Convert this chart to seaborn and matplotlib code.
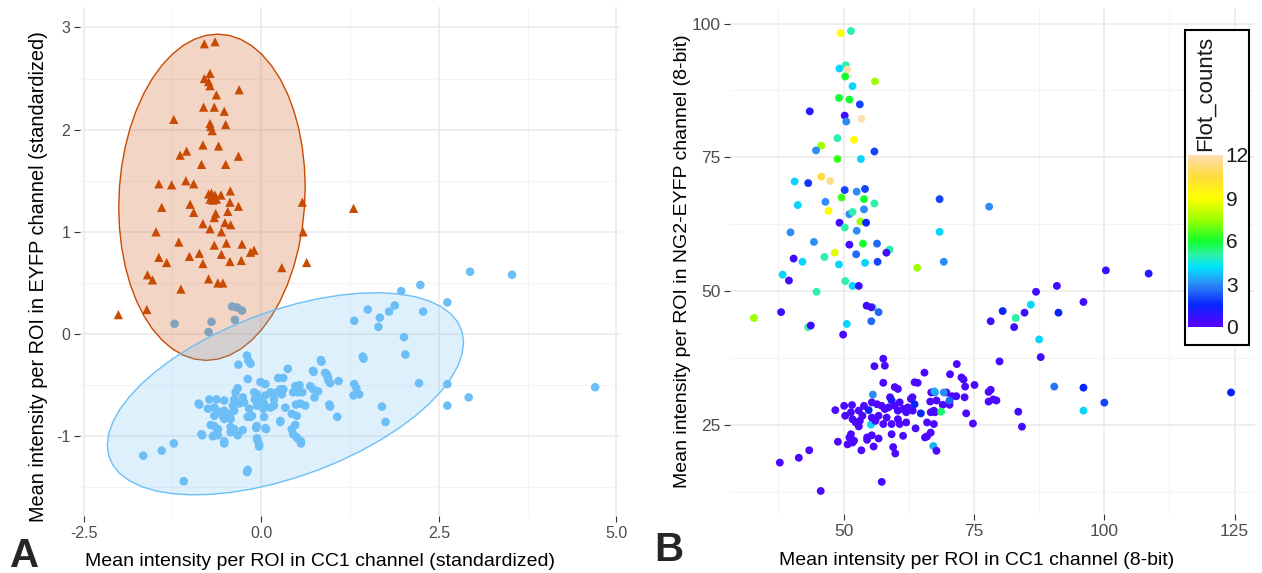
import numpy as np
import pandas as pd
import matplotlib
matplotlib.use("Agg")
import matplotlib.pyplot as plt
import seaborn as sns
from matplotlib.colors import LinearSegmentedColormap, Normalize
from matplotlib.patches import Polygon, Rectangle
from matplotlib.ticker import FixedLocator, FuncFormatter

# ---------------- Panel A: standardized intensities ----------------
eyfp_cc1_x = [-0.80, -0.65, -0.72, -0.80, -0.74, -0.72, -0.31, -0.63, -0.81, -0.66,
              -0.52, -1.23, -0.72, -0.71, -0.69, -0.50, -0.82, -0.60, -1.05, -1.14,
              -0.84, -0.50, -0.32, -1.06, -0.95, -1.44, -1.26, -0.74, -0.70, -0.65,
              -0.72, -0.68, -0.63, -0.565, -0.435, -1.00, -0.44, -0.32, 0.58, -1.40,
              -0.95, -0.64, -0.66, -0.47, -0.82, -0.51, -0.43, -0.72, -0.56, -1.48,
              0.59, -1.16, -0.66, -0.49, -0.27, -0.15, -0.10, -0.87, -0.56, -1.44,
              -1.33, -1.01, -0.82, -0.44, -0.28, 0.29, 0.64, -1.60, -1.53, -0.74,
              -0.61, -0.54, -1.13, -1.61, -2.01, 1.30]
eyfp_eyfp_y = [2.84, 2.86, 2.55, 2.50, 2.47, 2.43, 2.39, 2.34, 2.22, 2.22,
               2.18, 2.10, 2.06, 2.03, 1.99, 2.05, 1.85, 1.84, 1.79, 1.75,
               1.66, 1.66, 1.74, 1.50, 1.47, 1.47, 1.46, 1.37, 1.38, 1.36,
               1.32, 1.31, 1.32, 1.36, 1.40, 1.27, 1.29, 1.25, 1.29, 1.24,
               1.19, 1.18, 1.14, 1.20, 1.08, 1.09, 1.07, 1.03, 1.00, 1.00,
               1.00, 0.90, 0.87, 0.89, 0.88, 0.80, 0.82, 0.79, 0.78, 0.75,
               0.70, 0.76, 0.69, 0.71, 0.72, 0.65, 0.70, 0.58, 0.53, 0.54,
               0.50, 0.50, 0.44, 0.24, 0.19, 1.23]

cc1_cc1_x = [-1.22, -0.70, -0.74, -0.37, -0.41, -0.34, -0.27,
             2.94, 3.53, 2.24, 1.97, 2.62, 1.88, 1.50, 1.80, 2.28, 1.67, 1.31, 1.65,
             2.01, 2.03, 1.44, 2.22, 2.62, 4.70, 2.92, 2.62, 1.70, 1.75, 1.07, 0.97,
             1.31, 1.34, 1.38, 1.30, 1.09, 0.85, 0.74, 0.92, 0.94, 0.97, 0.375,
             -0.32, -0.18, -0.15, -0.20, -1.66, -1.40, -1.23, -1.09, -0.20, -0.83,
             -0.87, -0.52, -0.03, -0.05, 0.56, 0.51, 0.45, 0.27, -0.07, 0.07,
             1.43, 0.84, 0.73, 0.90, 0.94, 0.96, -0.19, -0.01, 0.06, 0.24, 0.31,
             0.96, 0.48, 0.54, 0.69, 0.73, 0.75, 0.80, 0.45, 0.52, 0.58, 0.49, 0.55,
             0.62, 0.27, 0.31, 0.22, 0.29, 0.13, 0.06, 0.18, 0.13, 0.18, 0.34, 0.43,
             0.50, 0.27, 0.43, 0.48, 0.50, 0.56, 0.04, 0.03, 0.04, 0.06, -0.065,
             -0.06, -0.03, -0.19, -0.10, -0.06, -0.09, 0.00, -0.06, -0.17, -0.19,
             -0.13, -0.26, -0.24, -0.31, -0.36, -0.38, -0.33, -0.40, -0.38, -0.44,
             -0.52, -0.54, -0.52, -0.63, -0.66, -0.73, -0.75, -0.88, -0.59, -0.66,
             -0.52, -0.71, -0.66, -0.61, -0.84, -0.66, -0.68, -0.61, -0.52, -0.43,
             -0.38, -0.43, -0.26, -0.33, -0.15, -0.43]
cc1_eyfp_y = [0.10, 0.12, 0.02, 0.14, 0.27, 0.26, 0.23,
              0.61, 0.58, 0.48, 0.42, 0.31, 0.28, 0.24, 0.22, 0.22, 0.16, 0.13, 0.07,
              -0.03, -0.20, -0.24, -0.48, -0.49, -0.52, -0.62, -0.70, -0.71, -0.86, -0.81, -0.71,
              -0.49, -0.53, -0.59, -0.60, -0.46, -0.27, -0.37, -0.39, -0.44, -0.48, -0.34,
              -0.30, -0.26, -0.29, -0.21, -1.19, -1.14, -1.07, -1.44, -1.35, -0.99,
              -0.69, -1.07, -1.10, -1.04, -1.07, -1.02, -0.98, -0.86, -0.92, -0.93,
              -0.22, -0.255, -0.36, -0.38, -0.42, -0.47, -0.44, -0.47, -0.49, -0.43, -0.43,
              -0.69, -0.51, -0.50, -0.51, -0.54, -0.62, -0.56, -0.57, -0.57, -0.57, -0.69, -0.68,
              -0.70, -0.54, -0.54, -0.57, -0.59, -0.57, -0.60, -0.64, -0.72, -0.70, -0.72, -0.78,
              -0.80, -0.85, -0.93, -0.89, -1.01, -1.05, -0.68, -0.73, -0.81, -0.92, -0.90,
              -1.02, -1.08, -1.33, -0.57, -0.59, -0.64, -0.65, -0.70, -0.73, -0.81,
              -0.80, -0.62, -0.67, -0.68, -0.57, -0.64, -0.53, -0.70, -0.75, -0.78,
              -0.75, -0.80, -0.65, -0.64, -0.72, -0.64, -0.73, -0.68, -0.76, -0.80,
              -0.83, -0.89, -0.90, -0.93, -0.98, -0.99, -1.00, -0.99, -1.05, -0.91,
              -0.93, -0.96, -0.94, -0.99, -0.81, -0.83]

# ---------------- Panel B: 8-bit intensities ----------------
cc1_8bit = [49.4, 51.4, 49.2, 50.4, 50.7, 50.3, 56.0, 51.7, 49.1, 51.1, 53.1, 43.5, 50.2, 50.5,
            53.4, 48.8, 52.0, 45.7, 44.7, 55.9, 48.8, 53.3, 45.7, 47.4, 40.6, 43.2, 50.2, 52.5,
            54.1, 41.2, 46.5, 49.6, 53.9, 55.9, 47.1, 51.1, 51.7, 53.9, 49.2, 53.2, 54.3, 50.2,
            52.5, 39.8, 44.3, 51.1, 53.7, 56.4, 58.8, 58.2, 48.3, 52.4, 40.4, 46.3, 42.1, 49.1,
            54.1, 56.5, 64.1, 38.3, 39.5, 50.3, 51.7, 52.9, 44.8, 55.6, 54.4, 55.3, 56.7, 55.3,
            38.0, 32.8, 43.2, 43.7, 50.6, 49.9, 68.4, 77.9, 68.4, 69.2,
            100.3, 108.5, 90.9, 86.9, 96.0, 85.9, 80.5, 84.7, 91.2, 83.0, 78.2, 82.7, 87.5, 87.8,
            79.9, 90.4, 96.0, 124.3, 100.0, 96.0, 83.5, 84.2,
            71.7, 70.4, 65.5, 72.6, 73.0, 75.1, 73.3, 78.2, 77.8, 69.7, 70.8, 71.6, 77.8, 78.7,
            79.3, 73.2, 70.3, 70.3, 67.5, 66.8, 66.6, 67.8, 69.0, 67.3, 66.7, 67.5, 68.7, 73.5,
            74.8, 66.0, 67.3, 63.8, 66.7, 66.0, 65.6, 67.2, 67.8, 67.4, 69.2, 70.3,
            37.75, 41.4, 43.4, 45.6, 57.3, 57.6, 55.9, 57.9, 57.6, 63.6, 64.2, 59.8, 60.4, 55.6,
            58.9, 59.2, 60.75, 62.9, 63.2, 55.4, 56.4, 57.3, 57.9, 58.6, 59.8, 60.4, 61.4, 62.0,
            62.3, 63.25, 64.8, 63.6, 54.8, 53.9, 52.9, 53.6, 51.6, 51.4, 50.1, 50.3, 48.4, 51.7,
            52.3, 52.9, 53.1, 55.25, 55.4, 56.1, 56.7, 57.6, 58.25, 59.2, 60.4, 60.75, 62.0,
            51.4, 51.1, 51.7, 50.75, 52.0, 48.9, 53.4, 54.5, 54.5, 55.4, 56.7, 55.75, 59.2, 61.4,
            59.5, 59.9]
ng2_8bit = [98.2, 98.6, 91.6, 92.2, 91.4, 90.1, 89.2, 88.3, 86.1, 85.8, 84.9, 83.6, 82.8, 81.7,
            82.2, 78.6, 78.3, 77.2, 76.3, 76.1, 74.7, 74.7, 71.4, 70.6, 70.5, 70.2, 68.9, 68.6,
            69.1, 66.1, 66.7, 67.5, 67.2, 66.4, 65.0, 64.4, 64.8, 65.3, 62.8, 63.0, 62.8, 61.9,
            61.3, 61.0, 59.2, 58.7, 58.9, 58.9, 57.8, 57.2, 57.2, 56.9, 56.1, 56.4, 55.5, 55.0,
            55.3, 55.5, 54.4, 53.1, 52.0, 51.9, 51.0, 51.0, 49.9, 47.0, 47.3, 47.0, 46.1, 44.4,
            46.1, 45.0, 43.3, 43.6, 43.9, 41.9, 67.2, 65.8, 61.1, 55.5,
            53.9, 53.3, 51.0, 49.9, 48.0, 47.5, 46.3, 46.0, 46.0, 45.0, 44.4, 43.3, 41.0, 37.7,
            36.9, 32.2, 32.0, 31.1, 29.2, 27.7, 27.5, 24.7,
            36.4, 34.5, 34.8, 33.9, 33.5, 32.5, 32.2, 31.6, 31.2, 31.1, 30.4, 30.4, 29.4, 29.8,
            29.6, 30.2, 28.8, 29.4, 31.1, 31.1, 29.4, 29.6, 28.8, 27.7, 27.4, 27.4, 27.5, 27.2,
            25.3, 25.5, 25.2, 24.4, 23.6, 22.9, 22.7, 21.1, 20.2, 31.3, 31.1, 29.6,
            18.0, 18.9, 20.3, 12.7, 14.4, 37.4, 36.0, 36.1, 32.9, 33.0, 32.9, 32.1, 31.75, 30.7,
            30.2, 29.6, 29.25, 29.9, 30.2, 29.25, 28.9, 28.6, 28.0, 28.3, 28.6, 27.7, 28.0, 27.4,
            28.3, 27.7, 27.2, 28.9, 27.8, 28.6, 27.7, 26.75, 28.75, 27.4, 28.6, 26.75, 27.8, 26.1,
            25.5, 24.75, 25.8, 25.1, 26.4, 25.8, 26.75, 25.2, 26.4, 25.2, 26.1, 25.2, 25.5,
            23.3, 22.7, 21.75, 21.4, 22.1, 21.9, 20.3, 22.7, 22.25, 23.1, 22.5, 21.0, 23.3, 23.0,
            20.9, 19.7]
flot_counts = [9, 5, 4, 5, 12, 6, 7.5, 4, 6, 6, 2, 1, 0.5, 3,
               12, 5, 9, 7.5, 3, 2, 6.5, 4, 10.5, 11.5, 4, 1.8, 2, 3,
               2, 4, 3, 6.5, 6, 5, 9, 3, 5, 3, 0.5, 7.5, 1.5, 5,
               3, 3, 3, 0.5, 6, 2.5, 5, 0.5, 8.5, 2.5, 0.5, 5, 4, 4,
               4, 2, 7.5, 4, 0.5, 5, 4, 0.7, 5, 5, 0.5, 0.5, 2.5, 2.5,
               0.5, 7.5, 5, 0.5, 4, 0.3, 2, 3, 4, 3,
               0.7, 1, 0.5, 0.5, 0.5, 4, 1.5, 0.5, 1.5, 5, 0.5, 0.5, 4, 0.5,
               0.5, 2.7, 1.5, 1.5, 2, 4, 0.5, 0.5,
               0.3, 0.3, 0.3, 0.3, 0.3, 0.3, 0.3, 0.3, 0.3, 0.3, 0.3, 0.3, 0.3, 0.3,
               0.3, 0.3, 0.3, 0.3, 3, 0.3, 0.3, 0.3, 0.3, 0.3, 0.3, 0.3, 5.5, 0.3,
               0.3, 0.3, 0.3, 0.3, 0.3, 0.3, 0.3, 3.5, 0.3, 3.5, 3, 2.5,
               0.3, 0.3, 0.3, 0.3, 0.3, 0.3, 0.3, 0.3, 0.3, 0.3, 0.3, 0.3, 0.3, 3,
               0.3, 1.2, 0.3, 0.3, 0.3, 0.3, 0.3, 0.3, 0.3, 0.3, 0.3, 0.3, 0.3, 0.3,
               0.3, 0.3, 1.5, 1.5, 1.5, 0.3, 0.3, 0.3, 0.3, 0.3, 0.3, 0.3, 0.3, 0.3,
               0.3, 0.3, 0.3, 4, 0.3, 0.3, 0.3, 0.3, 0.3, 0.3, 0.3, 0.3, 0.3,
               0.3, 0.3, 0.3, 0.3, 0.3, 0.3, 0.3, 0.3, 0.3, 0.3, 0.3, 0.3, 0.3, 0.3,
               0.3, 0.3]

cbar_ticks = [0, 3, 6, 9, 12]

# ---------------- style ----------------
sns.set_theme(style="white")
plt.rcParams['font.family'] = ['Liberation Sans', 'DejaVu Sans']
plt.rcParams['axes.unicode_minus'] = False

ORANGE = "#C94A02"
SKY = "#6CBFF6"
TEXT_GREY = "#4D4D4D"

W, H = 1262, 573
fig = plt.figure(figsize=(W / 100, H / 100), dpi=100)
fig.patch.set_facecolor("white")


def px_axes(left, top, right, bottom):
    return fig.add_axes([left / W, 1 - bottom / H, (right - left) / W, (bottom - top) / H])


def minimal_style(ax, xmajor, xminor, ymajor, yminor, fmt_x, fmt_y, tick_size):
    for s in ax.spines.values():
        s.set_visible(False)
    ax.set_facecolor("white")
    ax.xaxis.set_major_locator(FixedLocator(xmajor))
    ax.xaxis.set_minor_locator(FixedLocator(xminor))
    ax.yaxis.set_major_locator(FixedLocator(ymajor))
    ax.yaxis.set_minor_locator(FixedLocator(yminor))
    ax.xaxis.set_major_formatter(FuncFormatter(fmt_x))
    ax.yaxis.set_major_formatter(FuncFormatter(fmt_y))
    ax.grid(which="major", color="#EBEBEB", linewidth=1.2)
    ax.grid(which="minor", color="#F4F4F4", linewidth=0.7)
    ax.set_axisbelow(True)
    ax.tick_params(which="major", bottom=True, left=True, length=4, width=0.8,
                   color="#333333", labelcolor=TEXT_GREY, labelsize=tick_size, pad=3)
    ax.tick_params(which="minor", bottom=False, left=False)


def norm_ellipse(x, y, level=0.95, segments=51):
    """Normal-theory confidence ellipse (ggplot2 stat_ellipse, type = 'norm')."""
    X = np.column_stack([x, y]).astype(float)
    n = X.shape[0]
    loc = X.mean(axis=0)
    cov = np.cov(X, rowvar=False)
    dfd = n - 1
    fq = dfd / 2 * ((1 - level) ** (-2 / dfd) - 1)   # F(2, n-1) quantile
    radius = np.sqrt(2 * fq)
    t = np.linspace(0, 2 * np.pi, segments)
    circle = np.column_stack([np.cos(t), np.sin(t)])
    L = np.linalg.cholesky(cov)
    return loc + radius * circle @ L.T


# ---------------- Panel A ----------------
axA = px_axes(80, 7, 620, 516)
dfA = pd.DataFrame({
    "cc1": np.r_[eyfp_cc1_x, cc1_cc1_x],
    "eyfp": np.r_[eyfp_eyfp_y, cc1_eyfp_y],
    "cluster": ["EYFP-high"] * len(eyfp_cc1_x) + ["CC1-high"] * len(cc1_cc1_x),
})
sns.scatterplot(data=dfA, x="cc1", y="eyfp", hue="cluster", style="cluster",
                size="cluster", sizes={"EYFP-high": 44, "CC1-high": 38},
                palette={"EYFP-high": ORANGE, "CC1-high": SKY},
                markers={"EYFP-high": "^", "CC1-high": "o"},
                linewidth=0, legend=False, ax=axA, zorder=2)
for name, col in [("EYFP-high", ORANGE), ("CC1-high", SKY)]:
    sub = dfA[dfA["cluster"] == name]
    pts = norm_ellipse(sub["cc1"].values, sub["eyfp"].values)
    axA.add_patch(Polygon(pts, closed=True, facecolor=col, alpha=0.23,
                          edgecolor="none", zorder=3))
    axA.add_patch(Polygon(pts, closed=True, facecolor="none",
                          edgecolor=col, linewidth=1.0, zorder=3))

axA.set_xlim(-2.55, 5.05)
axA.set_ylim(-1.78, 3.2)
minimal_style(axA, [-2.5, 0, 2.5, 5.0], [-1.25, 1.25, 3.75],
              [-1, 0, 1, 2, 3], [-1.5, -0.5, 0.5, 1.5, 2.5],
              lambda v, _: f"{v:.1f}", lambda v, _: f"{v:.0f}", 11.5)
axA.set_xlabel("Mean intensity per ROI in CC1 channel (standardized)", fontsize=14, color="black")
axA.set_ylabel("Mean intensity per ROI in EYFP channel (standardized)", fontsize=14.3, color="black")
axA.xaxis.set_label_coords(0.445, -0.072)
axA.yaxis.set_label_coords(-0.06, 0.47)

# ---------------- Panel B ----------------
axB = px_axes(730, 8, 1255, 514)
cmap = LinearSegmentedColormap.from_list("flot", [
    (0 / 12, "#5A00FF"), (1.5 / 12, "#0A24FF"), (3 / 12, "#2B8CF5"),
    (4.2 / 12, "#00E4FF"), (5 / 12, "#2EF0A8"), (6 / 12, "#12FF2E"),
    (7.5 / 12, "#9CFF00"), (9 / 12, "#FFFF00"), (10.5 / 12, "#FFDC3C"),
    (12 / 12, "#FFDDB2")])
norm = Normalize(0, 12)
dfB = pd.DataFrame({"cc1": cc1_8bit, "ng2": ng2_8bit, "Flot_counts": flot_counts})
sns.scatterplot(data=dfB, x="cc1", y="ng2", hue="Flot_counts", palette=cmap,
                hue_norm=norm, s=32, linewidth=0, legend=False, ax=axB)
axB.set_xlim(28.2, 128.9)
axB.set_ylim(8.4, 102.9)
minimal_style(axB, [50, 75, 100, 125], [37.5, 62.5, 87.5, 112.5],
              [25, 50, 75, 100], [12.5, 37.5, 62.5, 87.5],
              lambda v, _: f"{v:.0f}", lambda v, _: f"{v:.0f}", 12.5)
axB.set_xlabel("Mean intensity per ROI in CC1 channel (8-bit)", fontsize=14, color="black")
axB.set_ylabel("Mean intensity per ROI in NG2-EYFP channel (8-bit)", fontsize=14, color="black")
axB.xaxis.set_label_coords(0.47, -0.075)
axB.yaxis.set_label_coords(-0.074, 0.5)

# colour bar legend inside panel B
box = Rectangle((1185 / W, 1 - 345 / H), 64 / W, 315 / H, transform=fig.transFigure,
                facecolor="white", edgecolor="black", linewidth=1.5, zorder=5)
fig.patches.append(box)
cax = px_axes(1188, 155, 1223, 327)
cax.set_zorder(6)
cb = fig.colorbar(plt.cm.ScalarMappable(norm=norm, cmap=cmap), cax=cax, ticks=cbar_ticks)
cb.outline.set_visible(False)
cax.tick_params(which="major", direction="in", length=6, width=1, color="white",
                left=True, right=True, labelleft=False, labelright=True,
                labelsize=15, labelcolor="#1A1A1A", pad=2)
cax.minorticks_off()
fig.text(1205 / W, 1 - 93 / H, "Flot_counts", rotation=90, ha="center", va="center",
         fontsize=16, color="#1A1A1A", zorder=7)

# panel letters
fig.text(10 / W, 1 - 567 / H, "A", fontsize=29, fontweight="bold", ha="left", va="baseline")
fig.text(654 / W, 1 - 561 / H, "B", fontsize=29, fontweight="bold", ha="left", va="baseline")

fig.savefig("out.png", dpi=100)
